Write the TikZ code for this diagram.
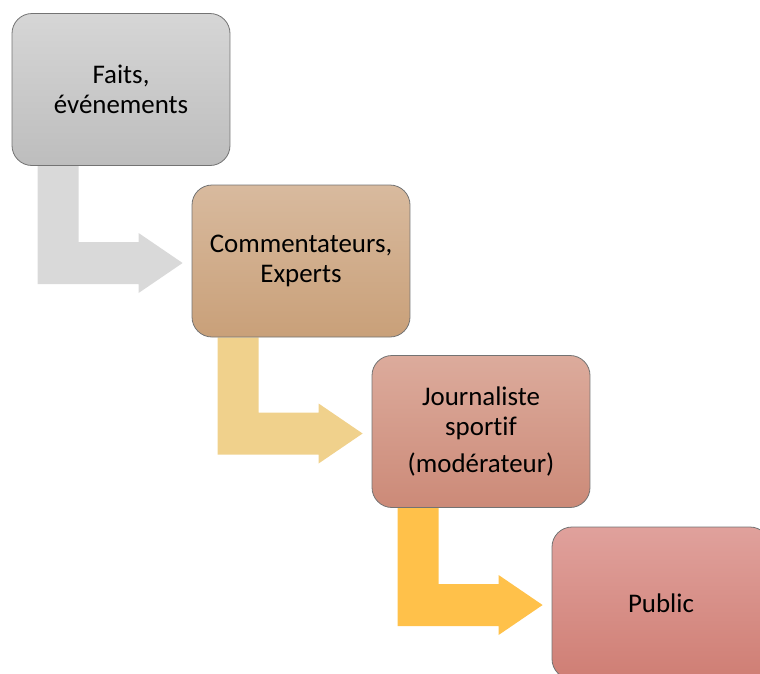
\documentclass[tikz,border=0pt]{standalone}
\usepackage{fontspec}
\setmainfont[Ligatures={NoCommon}]{Carlito}
\usetikzlibrary{calc,backgrounds}

\definecolor{faitsHaut}{HTML}{D6D6D6}
\definecolor{faitsBas}{HTML}{BDBDBD}
\definecolor{expertsHaut}{HTML}{D8BA9E}
\definecolor{expertsBas}{HTML}{C9A079}
\definecolor{journalisteHaut}{HTML}{DCAB9C}
\definecolor{journalisteBas}{HTML}{CC8A78}
\definecolor{publicHaut}{HTML}{E0A19C}
\definecolor{publicBas}{HTML}{CF7E74}
\definecolor{flecheGris}{HTML}{D9D9D9}
\definecolor{flecheSable}{HTML}{F0D18C}
\definecolor{flecheOr}{HTML}{FFC14A}

\begin{document}
\begin{tikzpicture}[x=1pt,y=1pt,
  etape/.style={draw=black!55,line width=0.8pt,rounded corners=20pt,
    minimum width=218pt,minimum height=152pt,inner sep=0pt,align=center,
    font=\fontsize{26.9}{30}\selectfont}]
  \clip (0,0) rectangle (760,-673);

  % ===== Boxes =====
  \node[etape,top color=faitsHaut,bottom color=faitsBas] (faits) at (121,-89.5) {Faits,\\événements};
  \node[etape,top color=expertsHaut,bottom color=expertsBas] (experts) at (301,-261) {Commentateurs,\\Experts};
  \node[etape,top color=journalisteHaut,bottom color=journalisteBas] (journaliste) at (481,-431.5) {Journaliste\\sportif\\[7pt](modérateur)};
  \node[etape,top color=publicHaut,bottom color=publicBas] (public) at (661,-603) {Public};

  % --- Bent arrows ---
  \begin{scope}[on background layer]
    \foreach \a/\b/\c in {faits/experts/flecheGris,experts/journaliste/flecheSable,journaliste/public/flecheOr} {
      \path ($(\a.south west)+(26,0)$) coordinate (depart)
            ($(\b.west)+(-9,-2)$) coordinate (pointe);
      \fill[\c] (depart) -- ++(41,0) |- ($(pointe)+(-44,21)$) -- ++(0,9) -- (pointe)
        -- ++(-44,-30) -- ++(0,9) -| (depart) -- cycle;
    }
  \end{scope}
\end{tikzpicture}
\end{document}
